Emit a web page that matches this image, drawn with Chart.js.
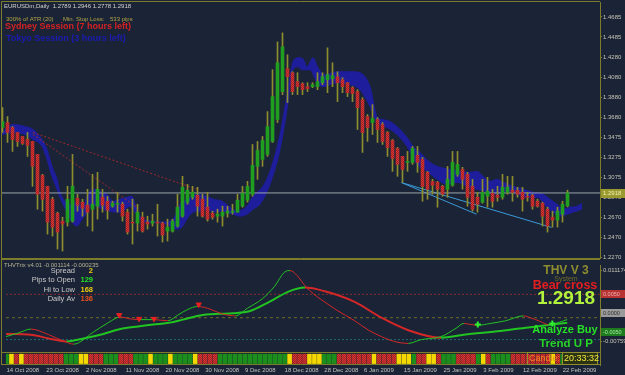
<!DOCTYPE html>
<html>
<head>
<meta charset="utf-8">
<title>EURUSDm Daily</title>
<script src="https://cdn.jsdelivr.net/npm/chart.js@4.4.1/dist/chart.umd.min.js"></script>
<style>
  html, body { margin: 0; padding: 0; background: #1b2336; }
  #wrap { position: relative; width: 625px; height: 375px; overflow: hidden; background: #1b2336; }
  canvas { position: absolute; left: 0; }
  #price { top: 0; }
  #osc { top: 259px; }
</style>
</head>
<body>
<div id="wrap">
  <canvas id="price" width="625" height="259"></canvas>
  <canvas id="osc" width="625" height="116"></canvas>
</div>
<script>
// daily bars, 14 Oct 2008 .. 25 Feb 2009
const opens = [
  1.3575, 1.3625, 1.3575, 1.3525, 1.3485, 1.3455, 1.3435, 1.3305, 1.3095, 1.2985,
  1.2855, 1.2715, 1.2635, 1.2625, 1.2635, 1.2865, 1.2825, 1.2795, 1.2755, 1.2785,
  1.2875, 1.2835, 1.2785, 1.2805, 1.2805, 1.2725, 1.2625, 1.2615, 1.2675, 1.2625,
  1.2615, 1.2625, 1.2615, 1.2535, 1.2535, 1.2585, 1.2685, 1.2825, 1.2875, 1.2895,
  1.2855, 1.2775, 1.2715, 1.2685, 1.2685, 1.2715, 1.2725, 1.2725, 1.2785, 1.2845,
  1.2905, 1.3185, 1.3255, 1.3305, 1.3435, 1.3655, 1.3935, 1.4165, 1.4125, 1.4035,
  1.4015, 1.3985, 1.3985, 1.3985, 1.4025, 1.4055, 1.4065, 1.4085, 1.4055, 1.4025,
  1.3975, 1.3935, 1.3855, 1.3685, 1.3625, 1.3655, 1.3605, 1.3525, 1.3445, 1.3365,
  1.3285, 1.3225, 1.3225, 1.3295, 1.3255, 1.3125, 1.3035, 1.3025, 1.2985, 1.2955,
  1.2995, 1.3105, 1.3155, 1.3105, 1.2985, 1.2875, 1.2825, 1.2885, 1.2915, 1.2895,
  1.2875, 1.2925, 1.2945, 1.2945, 1.2925, 1.2885, 1.2895, 1.2835, 1.2815, 1.2755,
  1.2675, 1.2645, 1.2705, 1.2789
];
const highs = [
  1.3775, 1.3685, 1.3585, 1.3525, 1.3485, 1.3525, 1.3435, 1.3305, 1.3105, 1.2985,
  1.2875, 1.2725, 1.2675, 1.2985, 1.3305, 1.2905, 1.2855, 1.2955, 1.3105, 1.3125,
  1.2955, 1.2885, 1.2835, 1.2925, 1.2825, 1.2755, 1.2855, 1.2805, 1.2725, 1.2685,
  1.2705, 1.2805, 1.2625, 1.2655, 1.2655, 1.2905, 1.3085, 1.3005, 1.2985, 1.2975,
  1.2905, 1.2925, 1.2735, 1.2755, 1.2785, 1.2785, 1.2805, 1.2905, 1.2985, 1.3035,
  1.3405, 1.3435, 1.3485, 1.3735, 1.4155, 1.4435, 1.4525, 1.4305, 1.4135, 1.4125,
  1.4025, 1.4025, 1.4025, 1.4125, 1.4125, 1.4375, 1.4225, 1.4135, 1.4075, 1.4025,
  1.3985, 1.3955, 1.3875, 1.3705, 1.3805, 1.3675, 1.3625, 1.3535, 1.3455, 1.3375,
  1.3285, 1.3335, 1.3385, 1.3385, 1.3275, 1.3135, 1.3055, 1.3035, 1.2995, 1.3185,
  1.3335, 1.3335, 1.3175, 1.3125, 1.3055, 1.2925, 1.3055, 1.3075, 1.2955, 1.2985,
  1.3105, 1.3085, 1.3085, 1.2975, 1.2975, 1.2925, 1.2905, 1.2855, 1.2825, 1.2775,
  1.2735, 1.2775, 1.2835, 1.2946
];
const lows = [
  1.3525, 1.3425, 1.3335, 1.3385, 1.3405, 1.3285, 1.2985, 1.2755, 1.2735, 1.2505,
  1.2485, 1.2355, 1.2335, 1.2585, 1.2625, 1.2735, 1.2685, 1.2585, 1.2535, 1.2655,
  1.2725, 1.2655, 1.2775, 1.2725, 1.2635, 1.2505, 1.2405, 1.2535, 1.2525, 1.2555,
  1.2585, 1.2485, 1.2425, 1.2435, 1.2525, 1.2575, 1.2675, 1.2805, 1.2855, 1.2685,
  1.2675, 1.2635, 1.2655, 1.2625, 1.2585, 1.2675, 1.2705, 1.2725, 1.2775, 1.2825,
  1.2885, 1.3055, 1.3185, 1.3285, 1.3425, 1.3625, 1.3905, 1.3825, 1.3905, 1.3905,
  1.3905, 1.3935, 1.3975, 1.3955, 1.4005, 1.3925, 1.3985, 1.3835, 1.3925, 1.3885,
  1.3835, 1.3555, 1.3325, 1.3435, 1.3505, 1.3425, 1.3405, 1.3285, 1.3135, 1.3085,
  1.3025, 1.3135, 1.3205, 1.3125, 1.2835, 1.2855, 1.2905, 1.2775, 1.2885, 1.2875,
  1.2985, 1.3085, 1.2955, 1.2785, 1.2735, 1.2725, 1.2815, 1.2775, 1.2775, 1.2835,
  1.2855, 1.2905, 1.2835, 1.2875, 1.2735, 1.2835, 1.2755, 1.2775, 1.2585, 1.2525,
  1.2575, 1.2575, 1.2625, 1.2778
];
const closes = [
  1.3635, 1.3525, 1.3455, 1.3435, 1.3415, 1.3395, 1.3185, 1.2905, 1.2855, 1.2625,
  1.2575, 1.2525, 1.2605, 1.2855, 1.2985, 1.2795, 1.2765, 1.2725, 1.2805, 1.2955,
  1.2795, 1.2745, 1.2815, 1.2815, 1.2685, 1.2525, 1.2615, 1.2725, 1.2535, 1.2605,
  1.2635, 1.2615, 1.2495, 1.2575, 1.2635, 1.2775, 1.2975, 1.2945, 1.2925, 1.2785,
  1.2685, 1.2655, 1.2675, 1.2705, 1.2725, 1.2735, 1.2735, 1.2845, 1.2915, 1.2985,
  1.3195, 1.3345, 1.3445, 1.3585, 1.3885, 1.4225, 1.4385, 1.4085, 1.3935, 1.3985,
  1.3955, 1.3965, 1.4005, 1.4035, 1.4085, 1.4105, 1.4095, 1.4025, 1.3985, 1.3925,
  1.3915, 1.3775, 1.3525, 1.3575, 1.3665, 1.3555, 1.3435, 1.3375, 1.3265, 1.3205,
  1.3155, 1.3235, 1.3365, 1.3225, 1.2985, 1.2955, 1.2995, 1.2955, 1.2905, 1.3055,
  1.3225, 1.3205, 1.3055, 1.2875, 1.2755, 1.2805, 1.2925, 1.2935, 1.2835, 1.2875,
  1.2975, 1.2975, 1.2925, 1.2905, 1.2855, 1.2875, 1.2785, 1.2785, 1.2685, 1.2585,
  1.2645, 1.2735, 1.2805, 1.2918
];

// blue envelope band, [bar index, price]
const bandUpper = [
  [-0.1,1.3535],[2.1,1.3605],[4.5,1.3585],[6.1,1.3555],[7.9,1.3455],[8.9,1.3355],[9.9,1.3185],[10.9,1.3055],
  [11.5,1.2925],[12.5,1.2835],[13.5,1.2805],[14.9,1.2825],[16.1,1.2775],[17.1,1.2905],[18.1,1.2955],[19.5,1.2935],
  [20.9,1.2905],[22.1,1.2835],[23.5,1.2855],[24.9,1.2875],[25.9,1.2885],[26.5,1.2805],[27.5,1.2685],[29.5,1.2635],
  [31.5,1.2625],[34.1,1.2655],[35.5,1.2805],[36.9,1.2855],[38.9,1.2905],[40.9,1.2885],[42.1,1.2855],[43.9,1.2835],
  [45.5,1.2775],[46.9,1.2735],[48.9,1.2785],[50.1,1.2885],[52.1,1.2985],[53.5,1.3135],[55.5,1.3505],[56.9,1.3905],
  [58.1,1.4235],[59.1,1.4275],[60.1,1.4265],[60.9,1.4185],[62.1,1.4275],[63.1,1.4175],[64.5,1.4105],[66.9,1.4135],
  [69.5,1.4135],[71.5,1.4125],[73.5,1.3985],[74.9,1.3685],[76.1,1.3655],[77.5,1.3635],[78.9,1.3585],[80.9,1.3475],
  [82.1,1.3385],[83.5,1.3325],[85.5,1.3225],[87.5,1.3175],[89.5,1.3155],[91.5,1.3135],[93.5,1.3125],[94.9,1.3135],
  [96.1,1.3085],[97.5,1.3035],[98.9,1.3055],[100.1,1.3025],[102.1,1.2985],[104.1,1.2955],[106.1,1.2925],[108.1,1.2905],
  [109.5,1.2855],[110.9,1.2805],[112.1,1.2755],[113.5,1.2775],[114.9,1.2785],[115.9,1.2815]
];
const bandLower = [
  [-0.1,1.3505],[2.1,1.3525],[4.5,1.3505],[6.1,1.3455],[7.9,1.3385],[8.9,1.3255],[9.9,1.3085],[10.9,1.2955],
  [11.9,1.2825],[12.9,1.2725],[13.9,1.2625],[14.9,1.2585],[15.9,1.2655],[16.9,1.2725],[17.9,1.2805],[18.9,1.2785],
  [20.1,1.2755],[21.5,1.2735],[22.9,1.2725],[24.1,1.2735],[25.5,1.2785],[26.5,1.2725],[27.5,1.2655],[29.5,1.2625],
  [31.5,1.2625],[33.5,1.2585],[34.9,1.2555],[35.9,1.2575],[36.9,1.2655],[38.1,1.2725],[39.5,1.2735],[40.9,1.2755],
  [42.1,1.2725],[43.5,1.2735],[44.9,1.2725],[46.1,1.2705],[47.5,1.2685],[48.9,1.2705],[50.1,1.2755],[51.5,1.2805],
  [53.5,1.3005],[55.5,1.3355],[56.9,1.3755],[58.1,1.4155],[59.1,1.4185],[59.9,1.4155],[61.5,1.4155],[62.9,1.4025],
  [64.1,1.3985],[65.5,1.4005],[66.9,1.4025],[69.5,1.4005],[71.5,1.3955],[73.5,1.3785],[74.9,1.3625],[76.9,1.3575],
  [78.9,1.3505],[80.9,1.3385],[82.9,1.3205],[84.9,1.3135],[86.9,1.3055],[88.9,1.3005],[90.9,1.3025],[92.9,1.2985],
  [94.9,1.2955],[96.9,1.2925],[98.9,1.2905],[100.9,1.2935],[102.9,1.2905],[104.9,1.2875],[106.9,1.2875],[108.9,1.2775],
  [110.1,1.2725],[111.5,1.2685],[112.9,1.2705],[114.1,1.2725],[115.9,1.2755]
];

// hand drawn trend lines
const redTrends = [ [[6.1,1.3525],[38.9,1.2955]], [[6.1,1.3505],[26.9,1.2775]] ];
const blueTrends = [ [[79.8,1.3022],[94.8,1.2705]], [[79.8,1.3022],[109.8,1.2572]] ];

const priceTicks = [1.4685, 1.4485, 1.4280, 1.4080, 1.3880, 1.3680, 1.3475, 1.3275, 1.3075, 1.2875, 1.2670, 1.2470, 1.2270];
const dateLabels = ['14 Oct 2008','23 Oct 2008','2 Nov 2008','11 Nov 2008','20 Nov 2008','30 Nov 2008','9 Dec 2008',
  '18 Dec 2008','28 Dec 2008','6 Jan 2009','15 Jan 2009','25 Jan 2009','3 Feb 2009','12 Feb 2009','22 Feb 2009'];
const dateStep = 8;

// THVTrix oscillator
const fastLine = [
  [-0.1,-0.0063],[2.5,-0.0053],[4.9,-0.0043],[8.5,-0.0058],[12.1,-0.0078],[13.5,-0.0083],[17.5,-0.0051],[20.5,-0.0026],
  [22.9,-0.0011],[24.9,-0.0016],[26.7,-0.0018],[29.7,-0.0018],[32.5,-0.0021],[34.5,-0.0006],[36.5,0.0009],[38.5,0.0017],
  [40.5,0.0012],[43.5,-0.0003],[46.1,-0.0008],[48.5,0.0012],[51.5,0.0037],[53.9,0.0069],[56.1,0.0109],[57.1,0.0112],
  [58.5,0.0099],[60.1,0.0072],[61.9,0.0049],[63.5,0.0034],[66.5,0.0007],[70.1,-0.0021],[72.9,-0.0046],[75.5,-0.0063],
  [78.1,-0.0076],[80.9,-0.0081],[83.5,-0.0071],[87.5,-0.0063],[90.5,-0.0041],[92.1,-0.0028],[93.5,-0.0031],[94.9,-0.0033],
  [97.5,-0.0028],[100.5,-0.0021],[104.1,-0.0008],[105.5,-0.0013],[107.5,-0.0023],[109.1,-0.0031],[110.5,-0.0028],[112.9,-0.0018]
];
const slowLine = [
  [-0.1,-0.0056],[4.9,-0.0058],[8.5,-0.0068],[12.1,-0.0076],[15.5,-0.0068],[19.5,-0.0056],[22.9,-0.0043],[26.5,-0.0036],
  [29.5,-0.0031],[32.9,-0.0026],[35.5,-0.0018],[39.5,-0.0006],[45.5,-0.0001],[48.9,0.0004],[52.9,0.0029],[56.9,0.0057],
  [60.1,0.0067],[64.1,0.0057],[70.1,0.0029],[75.5,-0.0013],[80.9,-0.0046],[87.5,-0.0066],[92.1,-0.0058],[99.5,-0.0048],
  [105.5,-0.0038],[112.9,-0.0026]
];
const sellArrows = [[22.7,-0.0006],[26.7,-0.0016],[29.7,-0.0016],[38.7,0.0022]];
const buyArrows = [[94.9,-0.0031],[109.9,-0.0028]];
const oscLevels = [0.0049, -0.0013, -0.0071];
const oscTicks = [0.011174, -0.00759];
const oscBoxes = [0.005, 0, -0.005];

// colour state strip, one letter per bar (G up, R down, Y neutral)
const stripState = ('GYRY' + 'RRRRRRRR' + 'GGG' + 'YY' + 'RRR' + 'GGG' + 'RRR' + 'GGG' + 'Y' + 'GGG' + 'Y' + 'GGGG' + 'Y' +
  'RRRR' + 'GGGGGGGGGGGGGG' + 'Y' + 'RRR' + 'YYY' + 'GGG' + 'RRRRRRR' + 'Y' + 'RRRR' + 'YYY' + 'G' + 'RR' + 'YY' + 'R' +
  'GGG' + 'RRRR' + 'G' + 'Y' + 'R' + 'GGGG' + 'RRRRRRRR' + 'Y' + 'R' + 'GG').split('');

const infoLabels = ['Spread', 'Pips to Open', 'Hi to Low', 'Daily Av'];
const infoValues = ['2', '129', '168', '136'];
const infoColors = ['#e8cc10', '#22e022', '#e8cc10', '#e8501c'];

const FONT = '"Liberation Sans", Arial, sans-serif';
const OLIVE = '#7c7c2a';
const GREEN = '#1f9e1f';
Chart.defaults.font.family = FONT;

// dotted red like the MT4 bodies
function makeRedPattern() {
  const p = document.createElement('canvas');
  p.width = 2; p.height = 2;
  const g = p.getContext('2d');
  g.fillStyle = '#d83434'; g.fillRect(0, 0, 2, 2);
  g.fillStyle = '#a42424'; g.fillRect(0, 0, 1, 1); g.fillRect(1, 1, 1, 1);
  return g.createPattern(p, 'repeat');
}
const redPattern = makeRedPattern();

const f4 = v => v.toFixed(4);
const n = closes.length - 1;
const lastClose = closes[n];
const pts = arr => arr.map(p => ({ x: p[0], y: p[1] }));

const XMIN = -0.1, XMAX = 119.5;

// ---------------- price panel ----------------
const priceText = {
  id: 'priceText',
  afterDraw(chart) {
    const c = chart.ctx, a = chart.chartArea;
    c.save();
    c.strokeStyle = OLIVE; c.lineWidth = 1;
    c.beginPath();
    c.moveTo(1.5, 1.5); c.lineTo(a.right, 1.5);
    c.moveTo(1.5, 1.5); c.lineTo(1.5, chart.height);
    c.moveTo(1.5, 258.5); c.lineTo(a.right, 258.5);
    c.stroke();

    c.textBaseline = 'middle'; c.textAlign = 'left';
    c.font = '6px ' + FONT; c.fillStyle = '#d4d4cc';
    c.fillText('EURUSDm,Daily  ' + f4(opens[n]) + ' ' + f4(highs[n]) + ' ' + f4(lows[n]) + ' ' + f4(closes[n]), 4, 6.5);
    c.fillStyle = '#b0a444';
    c.fillText('300% of ATR (20)', 6, 19);
    c.fillText('Min. Stop Loss:', 63, 19);
    c.fillText('533 pips', 110, 19);
    c.font = 'bold 9px ' + FONT;
    c.fillStyle = '#d42222';
    c.fillText('Sydney Session (7 hours left)', 5, 26.5);
    c.fillStyle = '#1c1cb0';
    c.fillText('Tokyo Session (3 hours left)', 6, 39);

    // current price tag on the axis
    const y = chart.scales.y.getPixelForValue(lastClose);
    c.fillStyle = '#9a9a30';
    c.fillRect(601, Math.round(y) - 4, 24, 9);
    c.fillStyle = '#f0f0b0';
    c.font = '6px ' + FONT;
    c.fillText(f4(lastClose), 603, Math.round(y) + 0.5);
    c.restore();
  }
};

const priceDatasets = [
  { type: 'bar', data: closes.map((cl, i) => ({ x: i, y: [opens[i], cl] })),
    backgroundColor: closes.map((cl, i) => cl >= opens[i] ? GREEN : redPattern),
    barThickness: 3, minBarLength: 1, grouped: false, order: 0 },
  { type: 'bar', data: highs.map((h, i) => ({ x: i, y: [lows[i], h] })),
    backgroundColor: '#8e8e2e', barThickness: 1, grouped: false, order: 1 },
  { type: 'line', data: [{ x: XMIN, y: lastClose }, { x: XMAX, y: lastClose }],
    borderColor: '#9aa6aa', borderWidth: 1, pointRadius: 0, order: 2 }
];
blueTrends.forEach(t => priceDatasets.push({ type: 'line', data: pts(t), borderColor: '#3c9ad8',
  borderWidth: 1, pointRadius: 0, order: 3 }));
redTrends.forEach(t => priceDatasets.push({ type: 'line', data: pts(t), borderColor: '#a02a2a',
  borderWidth: 1, borderDash: [2, 2], pointRadius: 0, order: 4 }));
priceDatasets.push({ type: 'line', data: pts(bandUpper), borderColor: '#1e1e9c', borderWidth: 1,
  pointRadius: 0, cubicInterpolationMode: 'monotone', fill: false, order: 5 });
priceDatasets.push({ type: 'line', data: pts(bandLower), borderColor: '#1e1e9c', backgroundColor: '#1e1e9c',
  borderWidth: 1, pointRadius: 0, cubicInterpolationMode: 'monotone', fill: '-1', order: 5 });

new Chart(document.getElementById('price'), {
  type: 'bar',
  data: { datasets: priceDatasets },
  options: {
    responsive: false, animation: false, devicePixelRatio: 1,
    layout: { padding: { left: 2, top: 2, bottom: 1, right: 0 } },
    plugins: { legend: { display: false }, tooltip: { enabled: false } },
    scales: {
      x: { type: 'linear', min: XMIN, max: XMAX, offset: false, display: false },
      y: {
        position: 'right', min: 1.2265, max: 1.4835,
        afterBuildTicks: s => { s.ticks = priceTicks.map(v => ({ value: v })); },
        afterFit: s => { s.width = 25; s.paddingTop = 0; s.paddingBottom = 0; },
        ticks: { color: '#c4c4b4', font: { size: 6 }, padding: 1, callback: v => v.toFixed(4) },
        grid: { drawOnChartArea: false, color: OLIVE, tickLength: 2 },
        border: { color: OLIVE }
      }
    }
  },
  plugins: [priceText]
});

// ---------------- oscillator panel ----------------
const stripColor = { G: '#1c8e1c', Y: '#f4d800', R: redPattern };

const oscText = {
  id: 'oscText',
  afterDraw(chart) {
    const c = chart.ctx, a = chart.chartArea, ys = chart.scales.y;
    c.save();
    c.strokeStyle = OLIVE; c.lineWidth = 1;
    c.beginPath();
    c.moveTo(1.5, 0.5); c.lineTo(a.right, 0.5);
    c.moveTo(1.5, 0); c.lineTo(1.5, 106);
    c.moveTo(1.5, 93.5); c.lineTo(a.right, 93.5);
    c.moveTo(1.5, 105.5); c.lineTo(a.right, 105.5);
    c.stroke();

    c.textBaseline = 'middle';
    c.textAlign = 'left';
    c.font = '6px ' + FONT; c.fillStyle = '#b4b490';
    c.fillText('THVTrix v4.01 -0.001114 -0.000235', 4, 6.5);

    infoLabels.forEach((t, i) => {
      const y = 11.5 + i * 9.6;
      c.textAlign = 'right';
      c.font = '7.5px ' + FONT; c.fillStyle = '#c8c8c8';
      c.fillText(t, 75, y);
      c.font = 'bold 7.5px ' + FONT; c.fillStyle = infoColors[i];
      c.fillText(infoValues[i], 93, y);
    });

    c.textAlign = 'center';
    c.font = 'bold 12px ' + FONT; c.fillStyle = '#8e8e2e';
    c.fillText('THV V 3', 566, 11.5);
    c.font = '7px ' + FONT; c.fillStyle = '#6e6e28';
    c.fillText('System', 566, 20);
    c.font = 'bold 12.5px ' + FONT; c.fillStyle = '#e41e1e';
    c.fillText('Bear cross', 565, 26.5);
    c.font = 'bold 19px ' + FONT; c.fillStyle = '#b2f23c';
    c.fillText(f4(lastClose), 566, 40);
    c.font = 'bold 11px ' + FONT; c.fillStyle = '#26e026';
    c.fillText('Analyze Buy', 565, 70.5);
    c.font = 'bold 11.5px ' + FONT; c.fillStyle = '#26d626';
    c.fillText('Trend U P', 566, 84.5);

    // candle timer box
    c.fillStyle = '#2c3214';
    c.fillRect(562, 94, 35, 11);
    c.strokeStyle = '#8e8e2e';
    c.strokeRect(527.5, 93.5, 70, 12);
    c.beginPath(); c.moveTo(562.5, 93.5); c.lineTo(562.5, 105.5); c.stroke();
    c.textAlign = 'left';
    c.font = '9px ' + FONT; c.fillStyle = '#e88a20';
    c.fillText('Candle:', 529, 100);
    c.fillStyle = '#f0e83c';
    c.fillText('20:33:32', 564, 100);

    // level tags on the axis
    const tagFill = ['#b83434', '#9a9a9a', '#1e7c1e'];
    const tagText = ['#f0b0b0', '#303030', '#a0e8a0'];
    c.font = '5.5px ' + FONT;
    oscBoxes.forEach((v, i) => {
      const y = Math.round(ys.getPixelForValue(v));
      c.fillStyle = tagFill[i];
      c.fillRect(601, y - 4, 24, 8);
      c.fillStyle = tagText[i];
      c.fillText(v.toFixed(4), 603, y + 0.5);
    });
    c.restore();
  }
};

const dirColor = ctx => ctx.p1.parsed.y >= ctx.p0.parsed.y ? '#22c422' : '#d42828';
const levelStyles = [
  { color: '#8a2c2c', dash: [2, 2] },
  { color: '#6e6e24', dash: [3, 3] },
  { color: '#1e6e70', dash: [2, 2] }
];

const oscDatasets = [
  { type: 'line', data: pts(sellArrows), showLine: false, pointStyle: 'triangle', rotation: 180,
    pointRadius: 3, backgroundColor: '#e82020', borderColor: '#e82020', order: 0 },
  { type: 'line', data: pts(buyArrows), showLine: false, pointStyle: 'crossRot', rotation: 45,
    pointRadius: 3, borderWidth: 2, borderColor: '#30f030', order: 0 },
  { type: 'line', data: pts(fastLine), borderWidth: 1, pointRadius: 0, cubicInterpolationMode: 'monotone',
    segment: { borderColor: dirColor }, borderColor: '#22c422', order: 1 },
  { type: 'line', data: pts(slowLine), borderWidth: 2, pointRadius: 0, cubicInterpolationMode: 'monotone',
    segment: { borderColor: dirColor }, borderColor: '#22c422', order: 2 },
  { type: 'bar', yAxisID: 'ys', data: stripState.map((s, i) => ({ x: i, y: [1.5, 11.5] })),
    backgroundColor: stripState.map(s => stripColor[s]), barThickness: 4, grouped: false, order: 4 }
];
oscLevels.forEach((v, i) => oscDatasets.push({ type: 'line', data: [{ x: XMIN, y: v }, { x: XMAX, y: v }],
  borderColor: levelStyles[i].color, borderDash: levelStyles[i].dash, borderWidth: 1, pointRadius: 0, order: 3 }));

new Chart(document.getElementById('osc'), {
  type: 'bar',
  data: { datasets: oscDatasets },
  options: {
    responsive: false, animation: false, devicePixelRatio: 1,
    layout: { padding: { left: 2, top: 0, bottom: 0, right: 0 } },
    plugins: { legend: { display: false }, tooltip: { enabled: false } },
    scales: {
      x: {
        type: 'linear', min: XMIN, max: XMAX, offset: false, position: 'bottom',
        afterBuildTicks: s => { s.ticks = dateLabels.map((d, i) => ({ value: i * dateStep })); },
        afterFit: s => { s.height = 10; s.paddingLeft = 0; s.paddingRight = 0; },
        ticks: { callback: (v, i) => dateLabels[i], align: 'start', color: '#c4c4bc', font: { size: 6 },
          padding: 2, maxRotation: 0, autoSkip: false },
        grid: { display: false, drawTicks: false },
        border: { display: false }
      },
      y: {
        position: 'right', min: -0.013826, max: 0.012674,
        afterBuildTicks: s => { s.ticks = oscTicks.map(v => ({ value: v })); },
        afterFit: s => { s.width = 25; s.paddingTop = 0; s.paddingBottom = 0; },
        ticks: { color: '#c4c4b4', font: { size: 6 }, padding: 1, callback: v => String(v) },
        grid: { drawOnChartArea: false, color: OLIVE, tickLength: 2 },
        border: { color: OLIVE }
      },
      ys: { type: 'linear', display: false, min: 0, max: 106 }
    }
  },
  plugins: [oscText]
});
</script>
</body>
</html>
